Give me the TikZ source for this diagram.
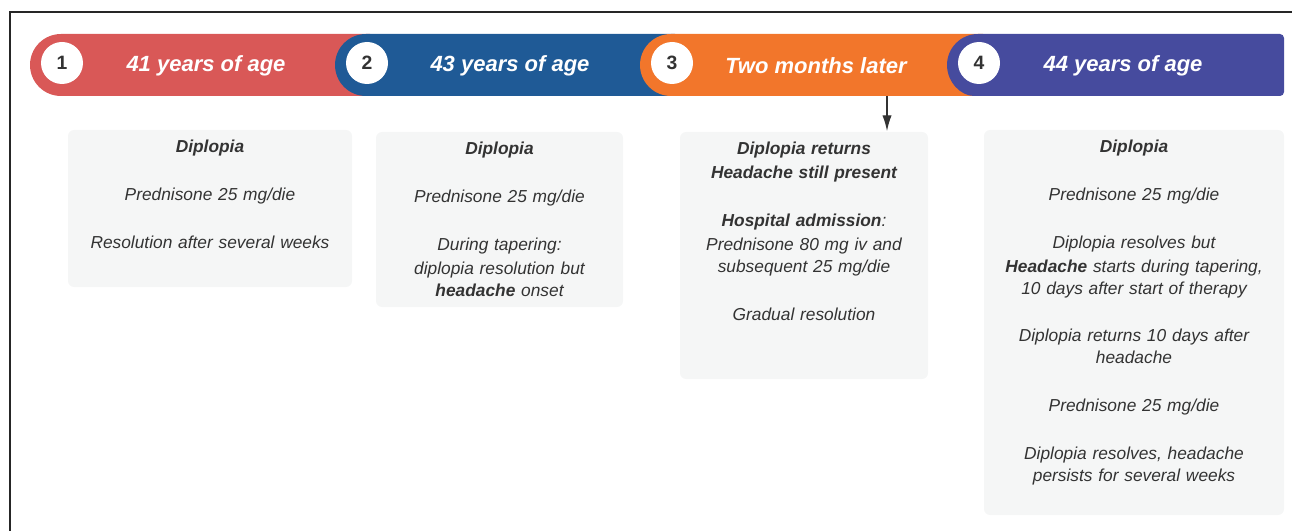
\documentclass[tikz,border=0pt]{standalone}
\usepackage{fontspec}
\setmainfont{Liberation Sans}
\usepackage{tikz}
\usetikzlibrary{arrows.meta,positioning}
\definecolor{bandA}{HTML}{D95857}
\definecolor{bandB}{HTML}{1F5A96}
\definecolor{bandC}{HTML}{F2762B}
\definecolor{bandD}{HTML}{464B9E}
\definecolor{panel}{HTML}{F5F6F6}
\definecolor{ink}{HTML}{333333}

\begin{document}
\begin{tikzpicture}[x=0.75pt,y=-0.75pt,>={Latex[length=12pt,width=7pt]},
                    line width=1.1pt]
  \tikzstyle{num}=[circle,fill=white,inner sep=0pt,minimum size=31.5pt,
                   text=ink,font=\fontsize{14.5}{18}\selectfont\bfseries]
  \tikzstyle{lbl}=[text=white,font=\fontsize{16.5}{20}\selectfont\bfseries\itshape]
  \tikzstyle{panelbox}=[fill=panel,rounded corners=4.5pt,inner sep=0pt]
  \tikzstyle{desc}=[text=ink,align=center,inner sep=0pt,
                    font=\fontsize{13}{16.5}\selectfont\itshape]

  \useasboundingbox (0,0) rectangle (1292,531);
  \draw[line width=1.5pt,color=black!85] (10,531) -- (10,12) -- (1292,12);

  \fill[bandA] (61,96) arc (90:270:31) -- (370,34) -- (370,96) -- cycle;
  \fill[bandB] (366,96) arc (90:270:31) -- (675,34) -- (675,96) -- cycle;
  \fill[bandC] (671,96) arc (90:270:31) -- (983,34) -- (983,96) -- cycle;
  \fill[bandD] (978,96) arc (90:270:31) [rounded corners=3pt] -- (1284,34)
    -- (1284,96) -- cycle;

  \node[num] (N1) at (62,63)  {1};
  \node[num] (N2) at (367,63) {2};
  \node[num] (N3) at (672,63) {3};
  \node[num] (N4) at (979,63) {4};
  \node[lbl] (L1) at (206,66)  {41 years of age};
  \node[lbl] (L2) at (510,66)  {43 years of age};
  \node[lbl] (L3) at (816,66)  {Two months later};
  \node[lbl] (L4) at (1123,66) {44 years of age};

  \node[panelbox,minimum width=213pt,minimum height=117.75pt]    (P1) at (210,208.5)  {};
  \node[panelbox,minimum width=185.25pt,minimum height=131.25pt] (P2) at (499.5,219.5) {};
  \node[panelbox,minimum width=186pt,minimum height=185.25pt]    (P3) at (804,255.5)  {};
  \node[panelbox,minimum width=225pt,minimum height=288.75pt]    (P4) at (1134,322.5) {};

  \node[desc,text width=200pt,below=7.5pt of P1.north] (D1)
    {\textbf{Diplopia}\\[19.5pt] Prednisone 25 mg/die\\[19.5pt]
     Resolution after several weeks};
  \node[desc,text width=175pt,below=7.5pt of P2.north] (D2)
    {\textbf{Diplopia}\\[19.5pt] Prednisone 25 mg/die\\[19.5pt]
     During tapering:\\[1.5pt] diplopia resolution but\\ \textbf{headache} onset};
  \node[desc,text width=176pt,below=7.5pt of P3.north] (D3)
    {\textbf{Diplopia returns}\\[1.5pt] \textbf{Headache still present}\\[19.5pt]
     \textbf{Hospital admission}:\\[1.5pt] Prednisone 80 mg iv and\\
     subsequent 25 mg/die\\[19.5pt] Gradual resolution};
  \node[desc,text width=215pt,below=7.5pt of P4.north] (D4)
    {\textbf{Diplopia}\\[19.5pt] Prednisone 25 mg/die\\[19.5pt]
     Diplopia resolves but\\[1.5pt] \textbf{Headache} starts during tapering,\\
     10 days after start of therapy\\[18.75pt]
     Diplopia returns 10 days after\\ headache\\[19.5pt]
     Prednisone 25 mg/die\\[19.5pt]
     Diplopia resolves, headache\\ persists for several weeks};

  \coordinate (T3) at (887,96);
  \draw[->,ink] (T3) -- (T3 |- P3.north);
\end{tikzpicture}
\end{document}
